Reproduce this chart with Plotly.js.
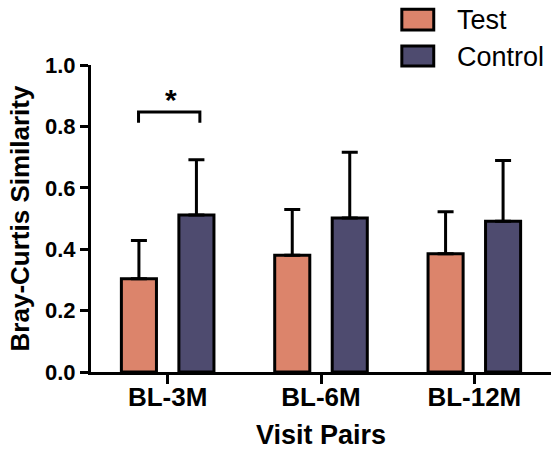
<!DOCTYPE html>
<html><head><meta charset="utf-8">
<script src="https://cdn.plot.ly/plotly-3.0.1.min.js"></script>
<style>html,body{margin:0;padding:0;background:#fff}</style>
</head><body><div id="chart" style="width:551px;height:450px"></div>
<script>
const categories = ['BL-3M', 'BL-6M', 'BL-12M'];
const seriesNames = ['Test', 'Control'];
const testMeans = [0.304, 0.380, 0.385];
const testSD = [0.124, 0.149, 0.137];
const controlMeans = [0.511, 0.502, 0.491];
const controlSD = [0.180, 0.214, 0.198];
const yTickVals = [0, 0.2, 0.4, 0.6, 0.8, 1.0];
const yTickText = ['0.0', '0.2', '0.4', '0.6', '0.8', '1.0'];
const sigLabel = '*';

const colors = ['#DC846B', '#4E4B6F'];
const FONT = 'Liberation Sans, Arial, sans-serif';

function barTrace(name, means, sd, color) {
  return {
    type: 'bar', name: name, x: categories, y: means,
    marker: {color: color, line: {color: '#000', width: 3}},
    error_y: {type: 'data', array: sd, arrayminus: sd.map(() => 0), symmetric: false,
              color: '#000', thickness: 3, width: 8},
    hoverinfo: 'skip'
  };
}

const data = [
  barTrace(seriesNames[0], testMeans, testSD, colors[0]),
  barTrace(seriesNames[1], controlMeans, controlSD, colors[1])
];

const layout = {
  width: 551, height: 450,
  margin: {l: 91, r: 0, t: 65, b: 78, pad: 0},
  paper_bgcolor: '#fff', plot_bgcolor: '#fff',
  showlegend: false,
  barmode: 'group', bargap: 0.25, bargroupgap: 0.39,
  font: {family: FONT, color: '#000'},
  xaxis: {
    type: 'category', range: [-0.5, 2.5], fixedrange: true,
    showline: true, linecolor: '#000', linewidth: 3,
    ticks: 'outside', ticklen: 9, tickwidth: 3, tickcolor: '#000',
    ticklabelstandoff: -9,
    showgrid: false, zeroline: false,
    tickfont: {family: FONT, size: 26, color: '#000', weight: 'bold'},
    title: {text: '<b>Visit Pairs</b>', font: {family: FONT, size: 27, color: '#000'}, standoff: 14}
  },
  yaxis: {
    range: [0, 1], fixedrange: true,
    showline: true, linecolor: '#000', linewidth: 3,
    ticks: 'outside', ticklen: 8, tickwidth: 3, tickcolor: '#000',
    tickvals: yTickVals, ticktext: yTickText,
    showgrid: false, zeroline: false,
    tickfont: {family: FONT, size: 22, color: '#000', weight: 'bold'},
    title: {text: '<b>Bray-Curtis Similarity</b>', font: {family: FONT, size: 26, color: '#000'}, standoff: 8}
  },
  shapes: [
    {type: 'path', xref: 'x', yref: 'y', path: 'M -0.19,0.812 L -0.19,0.847 L 0.21,0.847 L 0.21,0.812',
     line: {color: '#000', width: 3}},
    {type: 'rect', xref: 'paper', yref: 'paper', x0: 0.6757, x1: 0.7451, y0: 1.1136, y1: 1.1819,
     fillcolor: colors[0], line: {color: '#000', width: 3}},
    {type: 'rect', xref: 'paper', yref: 'paper', x0: 0.6757, x1: 0.7451, y0: 0.9964, y1: 1.0615,
     fillcolor: colors[1], line: {color: '#000', width: 3}}
  ],
  annotations: [
    {xref: 'x', yref: 'y', x: 0.02, y: 0.826, text: '<b>' + sigLabel + '</b>', showarrow: false,
     xanchor: 'center', yanchor: 'bottom', font: {family: FONT, size: 30, color: '#000'}},
    {xref: 'paper', yref: 'paper', x: 0.7918, y: 1.1477, text: seriesNames[0], showarrow: false,
     xanchor: 'left', yanchor: 'middle', font: {family: FONT, size: 27, color: '#000'}},
    {xref: 'paper', yref: 'paper', x: 0.7918, y: 1.0273, text: seriesNames[1], showarrow: false,
     xanchor: 'left', yanchor: 'middle', font: {family: FONT, size: 27, color: '#000'}}
  ]
};

Plotly.newPlot('chart', data, layout, {displayModeBar: false, staticPlot: true});
</script></body></html>
